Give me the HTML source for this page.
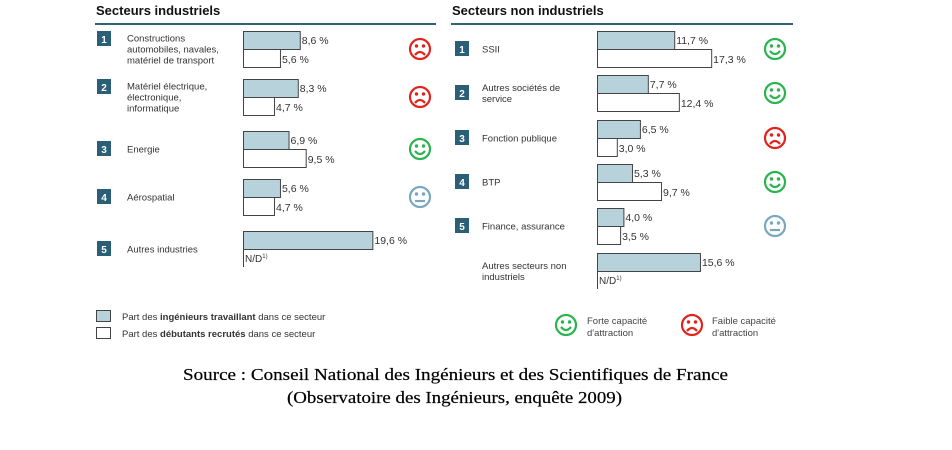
<!DOCTYPE html>
<html><head><meta charset="utf-8">
<style>
html,body{margin:0;padding:0;background:#fff;}
svg{display:block;font-family:"Liberation Sans",Arial,sans-serif;}
</style></head>
<body>
<svg id="chart" width="952" height="450" viewBox="0 0 952 450">
  <text x="96" y="15" font-size="13" font-weight="bold" fill="#111">Secteurs industriels</text>
  <line x1="95" y1="24" x2="436" y2="24" stroke="#2f6477" stroke-width="2"/>
  <text x="452" y="15" font-size="13" font-weight="bold" fill="#111">Secteurs non industriels</text>
  <line x1="451" y1="24" x2="793" y2="24" stroke="#2f6477" stroke-width="2"/>
  <g id="rows"></g>
  <g>
    <rect x="96.5" y="310.5" width="14" height="11" fill="#b8d2dc" stroke="#444"/>
    <text x="122" y="320" font-size="9.5" fill="#333">Part des <tspan font-weight="bold">ingénieurs travaillant</tspan> dans ce secteur</text>
    <rect x="96.5" y="327.5" width="14" height="11" fill="#fff" stroke="#444"/>
    <text x="122" y="337" font-size="9.5" fill="#333">Part des <tspan font-weight="bold">débutants recrutés</tspan> dans ce secteur</text>
    <g id="legsmile"></g>
    <text x="587" y="324" font-size="9.5" fill="#444">Forte capacité</text>
    <text x="587" y="336" font-size="9.5" fill="#444">d'attraction</text>
    <text x="712" y="324" font-size="9.5" fill="#444">Faible capacité</text>
    <text x="712" y="336" font-size="9.5" fill="#444">d'attraction</text>
  </g>
  <text x="183" y="380" font-size="17" textLength="545" lengthAdjust="spacingAndGlyphs" font-family="'Liberation Serif',serif" fill="#000" stroke="#000" stroke-width="0.2">Source : Conseil National des Ingénieurs et des Scientifiques de France</text>
  <text x="287" y="403" font-size="17" textLength="335" lengthAdjust="spacingAndGlyphs" font-family="'Liberation Serif',serif" fill="#000" stroke="#000" stroke-width="0.2">(Observatoire des Ingénieurs, enquête 2009)</text>
</svg>
<script>
const indLabels = [["Constructions","automobiles, navales,","matériel de transport"],["Matériel électrique,","électronique,","informatique"],["Energie"],["Aérospatial"],["Autres industries"]];
const indEngineers = [8.6, 8.3, 6.9, 5.6, 19.6];
const indBeginners = [5.6, 4.7, 9.5, 4.7, null];
const indMood = ["sad","sad","happy","neutral",null];
const indRank = [1,2,3,4,5];
const nonLabels = [["SSII"],["Autres sociétés de","service"],["Fonction publique"],["BTP"],["Finance, assurance"],["Autres secteurs non","industriels"]];
const nonEngineers = [11.7, 7.7, 6.5, 5.3, 4.0, 15.6];
const nonBeginners = [17.3, 12.4, 3.0, 9.7, 3.5, null];
const nonMood = ["happy","happy","sad","happy","neutral",null];
const nonRank = [1,2,3,4,5,null];

const NS = "http://www.w3.org/2000/svg";
const g = document.getElementById('rows');
function mk(tag, attrs, parent){const e=document.createElementNS(NS,tag);for(const k in attrs)e.setAttribute(k,attrs[k]);(parent||g).appendChild(e);return e;}
function fmt(v){return v.toFixed(1).replace('.',',')+' %';}
const pxPer = 6.6;
function xScale(x0,v){return x0+v*pxPer;}
const moodColor = {happy:"#2ab34f",sad:"#e0231c",neutral:"#7aa7c0"};
function smile(cx,cy,type,parent){
  const col = moodColor[type];
  const s = mk('g',{},parent);
  
  
  mk('circle',{cx:cx,cy:cy,r:10,fill:'none',stroke:col,'stroke-width':2.2},s);
  mk('circle',{cx:cx-3.5,cy:cy-3,r:1.7,fill:col},s);
  mk('circle',{cx:cx+3.5,cy:cy-3,r:1.7,fill:col},s);
  let d;
  if(type==='happy') d=`M${cx-5},${cy+2} Q${cx},${cy+8} ${cx+5},${cy+2}`;
  else if(type==='sad') d=`M${cx-5},${cy+6} Q${cx},${cy} ${cx+5},${cy+6}`;
  else d=`M${cx-5},${cy+4} L${cx+5},${cy+4}`;
  mk('path',{d:d,fill:'none',stroke:col,'stroke-width':2.2},s);
}
function panel(prefix,labels,eng,beg,mood,rank,x0,rowTops,numX,labX,smX){
  labels.forEach((lab,i)=>{
    const y=rowTops[i];
    const row = mk('g',{});
    
    
    const cy = y+18;
    if(rank[i]!==null){
      const by = lab.length>=3 ? y : cy-8;
      const b = mk('rect',{x:numX,y:by,width:14,height:15,fill:'#2a5f77'},row);
      
      
      const t = mk('text',{x:numX+7,y:by+12,'font-size':10,'font-weight':'bold',fill:'#fff','text-anchor':'middle'},row);
      t.textContent = rank[i];
    }
    const lt = mk('text',{x:labX,'font-size':9.5,fill:'#333'},row);
    
    
    const start = cy - (lab.length-1)*5.5 + 3.5;
    lab.forEach((ln,k)=>{const ts=mk('tspan',{x:labX,y:start+k*11},lt);ts.textContent=ln;});
    const b1 = mk('rect',{x:x0+0.5,y:y+0.5,width:xScale(x0,eng[i])-x0,height:18,fill:'#b8d2dc',stroke:'#444'},row);
    
    
    const v1 = mk('text',{x:xScale(x0,eng[i])+2,y:y+13,'font-size':10.5,fill:'#333'},row);
    v1.textContent = fmt(eng[i]);
    if(beg[i]!==null){
      const b2 = mk('rect',{x:x0+0.5,y:y+18.5,width:xScale(x0,beg[i])-x0,height:18,fill:'#fff',stroke:'#444'},row);
      
      
      const v2 = mk('text',{x:xScale(x0,beg[i])+2,y:y+32,'font-size':10.5,fill:'#333'},row);
      v2.textContent = fmt(beg[i]);
    } else {
      mk('line',{x1:x0+0.5,y1:y+19,x2:x0+0.5,y2:y+36,stroke:'#444'},row);
      const nd = mk('text',{x:x0+2,y:y+31,'font-size':10,fill:'#333'},row);
      nd.textContent='N/D';
      const sup = mk('tspan',{'font-size':6,dy:-4},nd); sup.textContent='1)';
    }
    if(mood[i]!==null) smile(smX,cy,mood[i],row);
  });
}
panel('industrial',indLabels,indEngineers,indBeginners,indMood,indRank,243,[31,79,131,179,231],97,127,420);
panel('non-industrial',nonLabels,nonEngineers,nonBeginners,nonMood,nonRank,597,[31,75,120,164,208,253],455,482,775);
const lg=document.getElementById('legsmile');
smile(566,325,'happy',lg);
smile(692,325,'sad',lg);
</script>
</body></html>
